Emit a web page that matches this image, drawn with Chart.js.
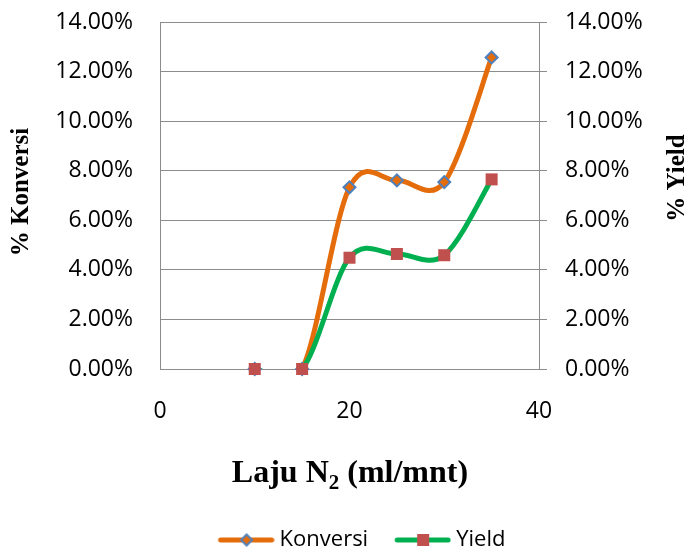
<!DOCTYPE html>
<html>
<head>
<meta charset="utf-8">
<script src="https://cdn.jsdelivr.net/npm/chart.js@4.4.1/dist/chart.umd.min.js"></script>
<style>
  html, body { margin: 0; padding: 0; background: #fff; }
  #chart { display: block; }
</style>
</head>
<body>
<canvas id="chart" width="690" height="550"></canvas>
<script>
// N2 flow rate (ml/mnt)
const lajuN2 = [10, 15, 20, 25, 30, 35];
// fractions, shown as percent
const konversi = [0, 0, 0.0733, 0.0761, 0.0754, 0.1257];
const yieldVals = [0, 0, 0.0449, 0.0464, 0.0459, 0.0765];

const yTicksMax = 0.14;
const yStep = 0.02;
const xTicksMax = 40;
const xStep = 20;

const ORANGE = '#e46c0a';
const GREEN = '#00b050';
const BLUE = '#4f81bd';
const RED = '#c0504d';
const GRID = '#8c8c8c';

const pts = (ys) => lajuN2.map((x, i) => ({x: x, y: ys[i]}));
const pct = (v) => (v * 100).toFixed(2) + '%';

// legend icon: line with marker in the middle (shifted right inside its box)
function legendIcon(lineColor, marker) {
    const c = document.createElement('canvas');
    c.width = 68;
    c.height = 14;
    const ctx = c.getContext('2d');
    ctx.strokeStyle = lineColor;
    ctx.lineWidth = 5;
    ctx.lineCap = 'round';
    ctx.beginPath();
    ctx.moveTo(14, 7);
    ctx.lineTo(65, 7);
    ctx.stroke();
    marker(ctx, 40, 7);
    return c;
}
const konvIcon = legendIcon(ORANGE, (ctx, x, y) => {
    ctx.beginPath();
    ctx.moveTo(x, y - 5.5);
    ctx.lineTo(x + 5.5, y);
    ctx.lineTo(x, y + 5.5);
    ctx.lineTo(x - 5.5, y);
    ctx.closePath();
    ctx.fillStyle = ORANGE;
    ctx.fill();
    ctx.lineWidth = 2;
    ctx.strokeStyle = BLUE;
    ctx.stroke();
});
const yieldIcon = legendIcon(GREEN, (ctx, x, y) => {
    ctx.fillStyle = RED;
    ctx.fillRect(x - 6, y - 6, 12, 12);
});

// Excel style smoothing: uniform catmull-rom control points (in pixels)
const excelSpline = {
    id: 'excelSpline',
    beforeDatasetDraw(chart, args) {
        const meta = args.meta;
        const ds = chart.data.datasets[args.index];
        if (!meta.dataset || ds.showLine === false) return;
        const p = meta.data;
        meta.dataset.updateControlPoints(chart.chartArea, meta.indexAxis);
        p.forEach((pt, i) => {
            const prev = p[Math.max(i - 1, 0)];
            const next = p[Math.min(i + 1, p.length - 1)];
            const dx = (next.x - prev.x) / 6, dy = (next.y - prev.y) / 6;
            pt.cp1x = pt.x - dx;
            pt.cp1y = pt.y - dy;
            pt.cp2x = pt.x + dx;
            pt.cp2y = pt.y + dy;
        });
    }
};

const titlesPlugin = {
    id: 'titles',
    afterDraw(chart) {
        const ctx = chart.ctx;
        ctx.save();
        ctx.fillStyle = '#000';
        ctx.textAlign = 'center';
        ctx.textBaseline = 'middle';
        ctx.font = 'bold 25px "Liberation Serif", "Times New Roman", serif';

        ctx.save();
        ctx.translate(22, 192);
        ctx.rotate(-Math.PI / 2);
        ctx.fillText('% Konversi', 0, 0);
        ctx.restore();

        ctx.save();
        ctx.translate(678, 178);
        ctx.rotate(-Math.PI / 2);
        ctx.fillText('% Yield', 0, 0);
        ctx.restore();

        // x title with subscript
        const big = 'bold 32px "Liberation Serif", "Times New Roman", serif';
        const small = 'bold 21px "Liberation Serif", "Times New Roman", serif';
        const a = 'Laju N', sub = '2', b = ' (ml/mnt)';
        ctx.textAlign = 'left';
        ctx.textBaseline = 'alphabetic';
        ctx.font = big;
        const wa = ctx.measureText(a).width, wb = ctx.measureText(b).width;
        ctx.font = small;
        const ws = ctx.measureText(sub).width;
        let x = 350 - (wa + ws + wb) / 2;
        const base = 482;
        ctx.font = big;
        ctx.fillText(a, x, base);
        x += wa;
        ctx.font = small;
        ctx.fillText(sub, x, base + 7);
        x += ws;
        ctx.font = big;
        ctx.fillText(b, x, base);
        ctx.restore();
    }
};

const tickFont = {family: '"Open Sans", sans-serif', size: 23};
const curve = {tension: 0.4, capBezierPoints: false};

new Chart(document.getElementById('chart'), {
    type: 'line',
    data: {
        datasets: [
            {
                label: 'Yield markers',
                data: pts(yieldVals),
                showLine: false,
                pointStyle: 'rect',
                pointRadius: 8.5,
                pointHoverRadius: 8.5,
                pointBackgroundColor: RED,
                pointBorderColor: RED,
                pointBorderWidth: 0,
                clip: false,
                yAxisID: 'y2'
            },
            {
                label: 'Konversi markers',
                data: pts(konversi),
                showLine: false,
                pointStyle: 'rectRot',
                pointRadius: 6,
                pointHoverRadius: 6,
                pointBackgroundColor: ORANGE,
                pointBorderColor: BLUE,
                pointBorderWidth: 2,
                clip: false,
                yAxisID: 'y'
            },
            {
                label: 'Yield',
                data: pts(yieldVals),
                borderColor: GREEN,
                backgroundColor: GREEN,
                borderWidth: 5,
                ...curve,
                pointRadius: 0,
                yAxisID: 'y2'
            },
            {
                label: 'Konversi',
                data: pts(konversi),
                borderColor: ORANGE,
                backgroundColor: ORANGE,
                borderWidth: 5,
                ...curve,
                pointRadius: 0,
                yAxisID: 'y'
            }
        ]
    },
    options: {
        responsive: false,
        animation: false,
        events: [],
        layout: {padding: {top: 22, left: 28, right: 0, bottom: -11}},
        plugins: {
            tooltip: {enabled: false},
            legend: {
                position: 'bottom',
                labels: {
                    usePointStyle: true,
                    pointStyleWidth: 56,
                    padding: 21,
                    color: '#000',
                    font: {family: '"Open Sans", sans-serif', size: 22},
                    generateLabels: () => [
                        {text: 'Konversi', pointStyle: konvIcon, fillStyle: ORANGE, strokeStyle: ORANGE, lineWidth: 0, datasetIndex: 3},
                        {text: 'Yield', pointStyle: yieldIcon, fillStyle: GREEN, strokeStyle: GREEN, lineWidth: 0, datasetIndex: 2}
                    ]
                }
            }
        },
        scales: {
            x: {
                type: 'linear',
                min: 0,
                max: xTicksMax,
                ticks: {stepSize: xStep, color: '#000', font: tickFont, padding: 29},
                grid: {display: false, drawTicks: false},
                border: {display: true, color: GRID},
                afterFit: (s) => { s.height = 139; }
            },
            y: {
                position: 'left',
                min: 0,
                max: yTicksMax,
                ticks: {stepSize: yStep, color: '#000', font: tickFont, padding: 27, callback: (v) => pct(v)},
                grid: {color: GRID, drawTicks: false},
                border: {color: GRID},
                afterFit: (s) => { s.width = 132; s.paddingTop = 0; }
            },
            y2: {
                position: 'right',
                min: 0,
                max: yTicksMax,
                ticks: {stepSize: yStep, color: '#000', font: tickFont, padding: 18, callback: (v) => pct(v)},
                grid: {color: GRID, drawOnChartArea: false, drawTicks: true, tickLength: 8},
                border: {color: GRID},
                afterFit: (s) => { s.width = 151; s.paddingTop = 0; }
            }
        }
    },
    plugins: [excelSpline, titlesPlugin]
});
</script>
</body>
</html>
